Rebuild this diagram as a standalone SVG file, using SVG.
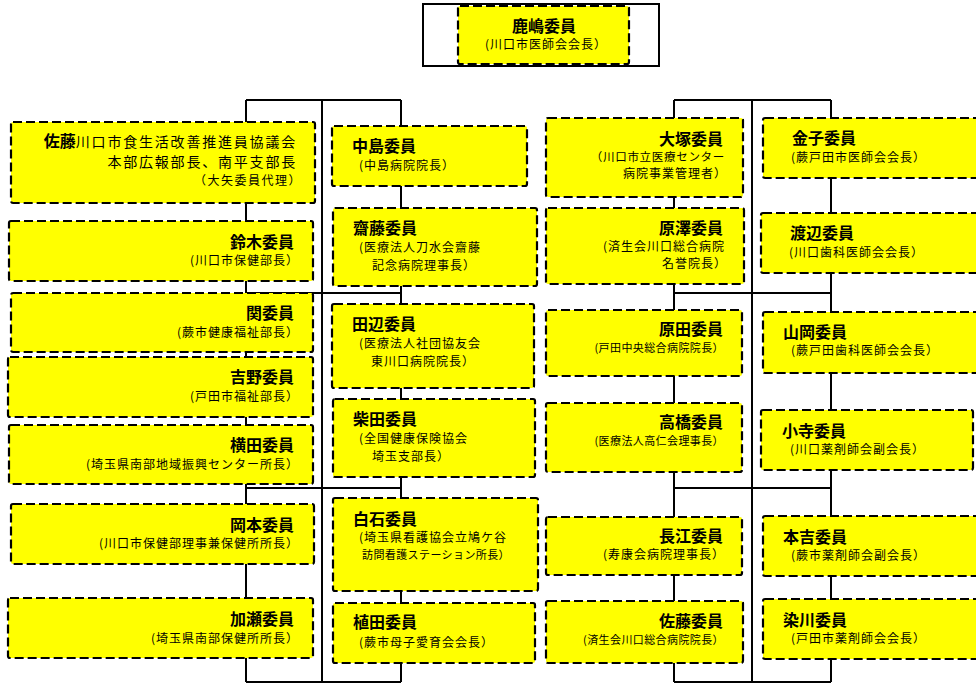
<svg xmlns="http://www.w3.org/2000/svg" width="976" height="684" viewBox="0 0 976 684">
<style>
.box{fill:#ffff00;stroke:#000;stroke-width:2.2;stroke-dasharray:9 4}
.ln{stroke:#000;stroke-width:2;fill:none}
.frame{fill:#fff;stroke:#000;stroke-width:2}
text{font-family:"Noto Sans CJK JP","Noto Sans CJK SC",sans-serif;fill:#000}
.t{font-size:16px;font-weight:700}
.s{font-size:12px;letter-spacing:1px}
.sl{font-size:11.5px;letter-spacing:0.7px}
.ss{font-size:11px;letter-spacing:0.4px}
.sw{font-size:12px;letter-spacing:1.5px}
.m{font-size:14px;letter-spacing:1.8px}
.e{text-anchor:end}
.c{text-anchor:middle}
</style>
<rect width="976" height="684" fill="#fff"/>
<g id="connectors">
<path class="ln" d="M246,100H401 M246,100V682 M322,100V682 M401,100V682 M246,293H401 M246,488H401 M246,682H401"/>
<path class="ln" d="M674,100H831 M674,100V682 M752,100V682 M831,100V682 M674,293H831 M674,488H831 M674,682H831"/>
</g>
<g id="kashima">
<rect class="frame" x="423" y="4" width="236" height="62"/>
<rect class="box" x="458" y="6" width="171" height="58" rx="2"/>
<text class="t c" x="544" y="32">鹿嶋委員</text>
<text class="s c" x="546" y="49">(川口市医師会会長）</text>
</g>
<g id="sato1">
<rect class="box" x="11" y="122" width="304" height="81" rx="2"/>
<text class="e" x="297" y="147"><tspan class="t">佐藤</tspan><tspan class="m">川口市食生活改善推進員協議会</tspan></text>
<text class="m e" x="297" y="167">本部広報部長、南平支部長</text>
<text class="sw e" x="302" y="185">（大矢委員代理）</text>
</g>
<g id="suzuki">
<rect class="box" x="9" y="221" width="304" height="60" rx="2"/>
<text class="t e" x="294" y="248">鈴木委員</text>
<text class="s e" x="299" y="265">(川口市保健部長）</text>
</g>
<g id="seki">
<rect class="box" x="11" y="293" width="302" height="59" rx="2"/>
<text class="t e" x="294" y="319">関委員</text>
<text class="s e" x="299" y="337">(蕨市健康福祉部長）</text>
</g>
<g id="yoshino">
<rect class="box" x="8" y="357" width="305" height="60" rx="2"/>
<text class="t e" x="294" y="383">吉野委員</text>
<text class="s e" x="299" y="401">(戸田市福祉部長）</text>
</g>
<g id="yokota">
<rect class="box" x="9" y="425" width="304" height="59" rx="2"/>
<text class="t e" x="294" y="451">横田委員</text>
<text class="s e" x="299" y="469">(埼玉県南部地域振興センター所長）</text>
</g>
<g id="okamoto">
<rect class="box" x="11" y="504" width="303" height="60" rx="2"/>
<text class="t e" x="294" y="531">岡本委員</text>
<text class="s e" x="299" y="548">(川口市保健部理事兼保健所所長）</text>
</g>
<g id="kase">
<rect class="box" x="8" y="598" width="305" height="60" rx="2"/>
<text class="t e" x="294" y="625">加瀬委員</text>
<text class="s e" x="299" y="643">(埼玉県南部保健所所長）</text>
</g>
<g id="nakajima">
<rect class="box" x="332" y="126" width="195" height="60" rx="2"/>
<text class="t" x="352" y="152">中島委員</text>
<text class="s" x="359" y="170">(中島病院院長）</text>
</g>
<g id="saito">
<rect class="box" x="333" y="208" width="204" height="78" rx="2"/>
<text class="t" x="353" y="234">齋藤委員</text>
<text class="s" x="359" y="252">(医療法人刀水会齋藤</text>
<text class="s" x="372" y="270">記念病院理事長）</text>
</g>
<g id="tanabe">
<rect class="box" x="332" y="304" width="202" height="84" rx="2"/>
<text class="t" x="352" y="330">田辺委員</text>
<text class="s" x="359" y="348">(医療法人社団協友会</text>
<text class="s" x="371" y="366">東川口病院院長）</text>
</g>
<g id="shibata">
<rect class="box" x="333" y="399" width="202" height="78" rx="2"/>
<text class="t" x="353" y="425">柴田委員</text>
<text class="s" x="359" y="443">(全国健康保険協会</text>
<text class="s" x="372" y="461">埼玉支部長）</text>
</g>
<g id="shiraishi">
<rect class="box" x="333" y="498" width="205" height="93" rx="2"/>
<text class="t" x="353" y="525">白石委員</text>
<text class="s" x="359" y="542">(埼玉県看護協会立鳩ケ谷</text>
<text class="ss" x="362" y="559">訪問看護ステーション所長）</text>
</g>
<g id="ueda">
<rect class="box" x="333" y="603" width="202" height="60" rx="2"/>
<text class="t" x="353" y="628">植田委員</text>
<text class="s" x="359" y="647">(蕨市母子愛育会会長）</text>
</g>
<g id="otsuka">
<rect class="box" x="546" y="118" width="197" height="79" rx="2"/>
<text class="t e" x="723" y="145">大塚委員</text>
<text class="sl e" x="725" y="161">（川口市立医療センター</text>
<text class="s e" x="727" y="178">病院事業管理者）</text>
</g>
<g id="harasawa">
<rect class="box" x="546" y="208" width="198" height="76" rx="2"/>
<text class="t e" x="723" y="234">原澤委員</text>
<text class="s e" x="725" y="251">(済生会川口総合病院</text>
<text class="s e" x="727" y="268">名誉院長）</text>
</g>
<g id="harada">
<rect class="box" x="546" y="310" width="196" height="66" rx="2"/>
<text class="t e" x="723" y="335">原田委員</text>
<text class="ss e" x="724" y="352">(戸田中央総合病院院長）</text>
</g>
<g id="takahashi">
<rect class="box" x="546" y="403" width="196" height="69" rx="2"/>
<text class="t e" x="723" y="428">高橋委員</text>
<text class="ss e" x="724" y="445">(医療法人高仁会理事長）</text>
</g>
<g id="nagae">
<rect class="box" x="546" y="517" width="196" height="58" rx="2"/>
<text class="t e" x="723" y="542">長江委員</text>
<text class="s e" x="725" y="559">(寿康会病院理事長）</text>
</g>
<g id="sato2">
<rect class="box" x="546" y="601" width="197" height="62" rx="2"/>
<text class="t e" x="723" y="627">佐藤委員</text>
<text class="ss e" x="724" y="644">(済生会川口総合病院院長）</text>
</g>
<g id="kaneko">
<rect class="box" x="763" y="118" width="230" height="60" rx="2"/>
<text class="t" x="792" y="144">金子委員</text>
<text class="s" x="791" y="162">(蕨戸田市医師会会長）</text>
</g>
<g id="watanabe">
<rect class="box" x="761" y="213" width="230" height="60" rx="2"/>
<text class="t" x="790" y="239">渡辺委員</text>
<text class="s" x="789" y="257">(川口歯科医師会会長）</text>
</g>
<g id="yamaoka">
<rect class="box" x="763" y="312" width="230" height="61" rx="2"/>
<text class="t" x="783" y="338">山岡委員</text>
<text class="s" x="791" y="355">(蕨戸田歯科医師会会長）</text>
</g>
<g id="kotera">
<rect class="box" x="761" y="410" width="212" height="60" rx="2"/>
<text class="t" x="782" y="437">小寺委員</text>
<text class="s" x="790" y="454">(川口薬剤師会副会長）</text>
</g>
<g id="motoyoshi">
<rect class="box" x="763" y="516" width="230" height="60" rx="2"/>
<text class="t" x="783" y="543">本吉委員</text>
<text class="s" x="791" y="560">(蕨市薬剤師会副会長）</text>
</g>
<g id="somekawa">
<rect class="box" x="763" y="599" width="230" height="60" rx="2"/>
<text class="t" x="783" y="626">染川委員</text>
<text class="s" x="791" y="643">(戸田市薬剤師会会長）</text>
</g>
</svg>
